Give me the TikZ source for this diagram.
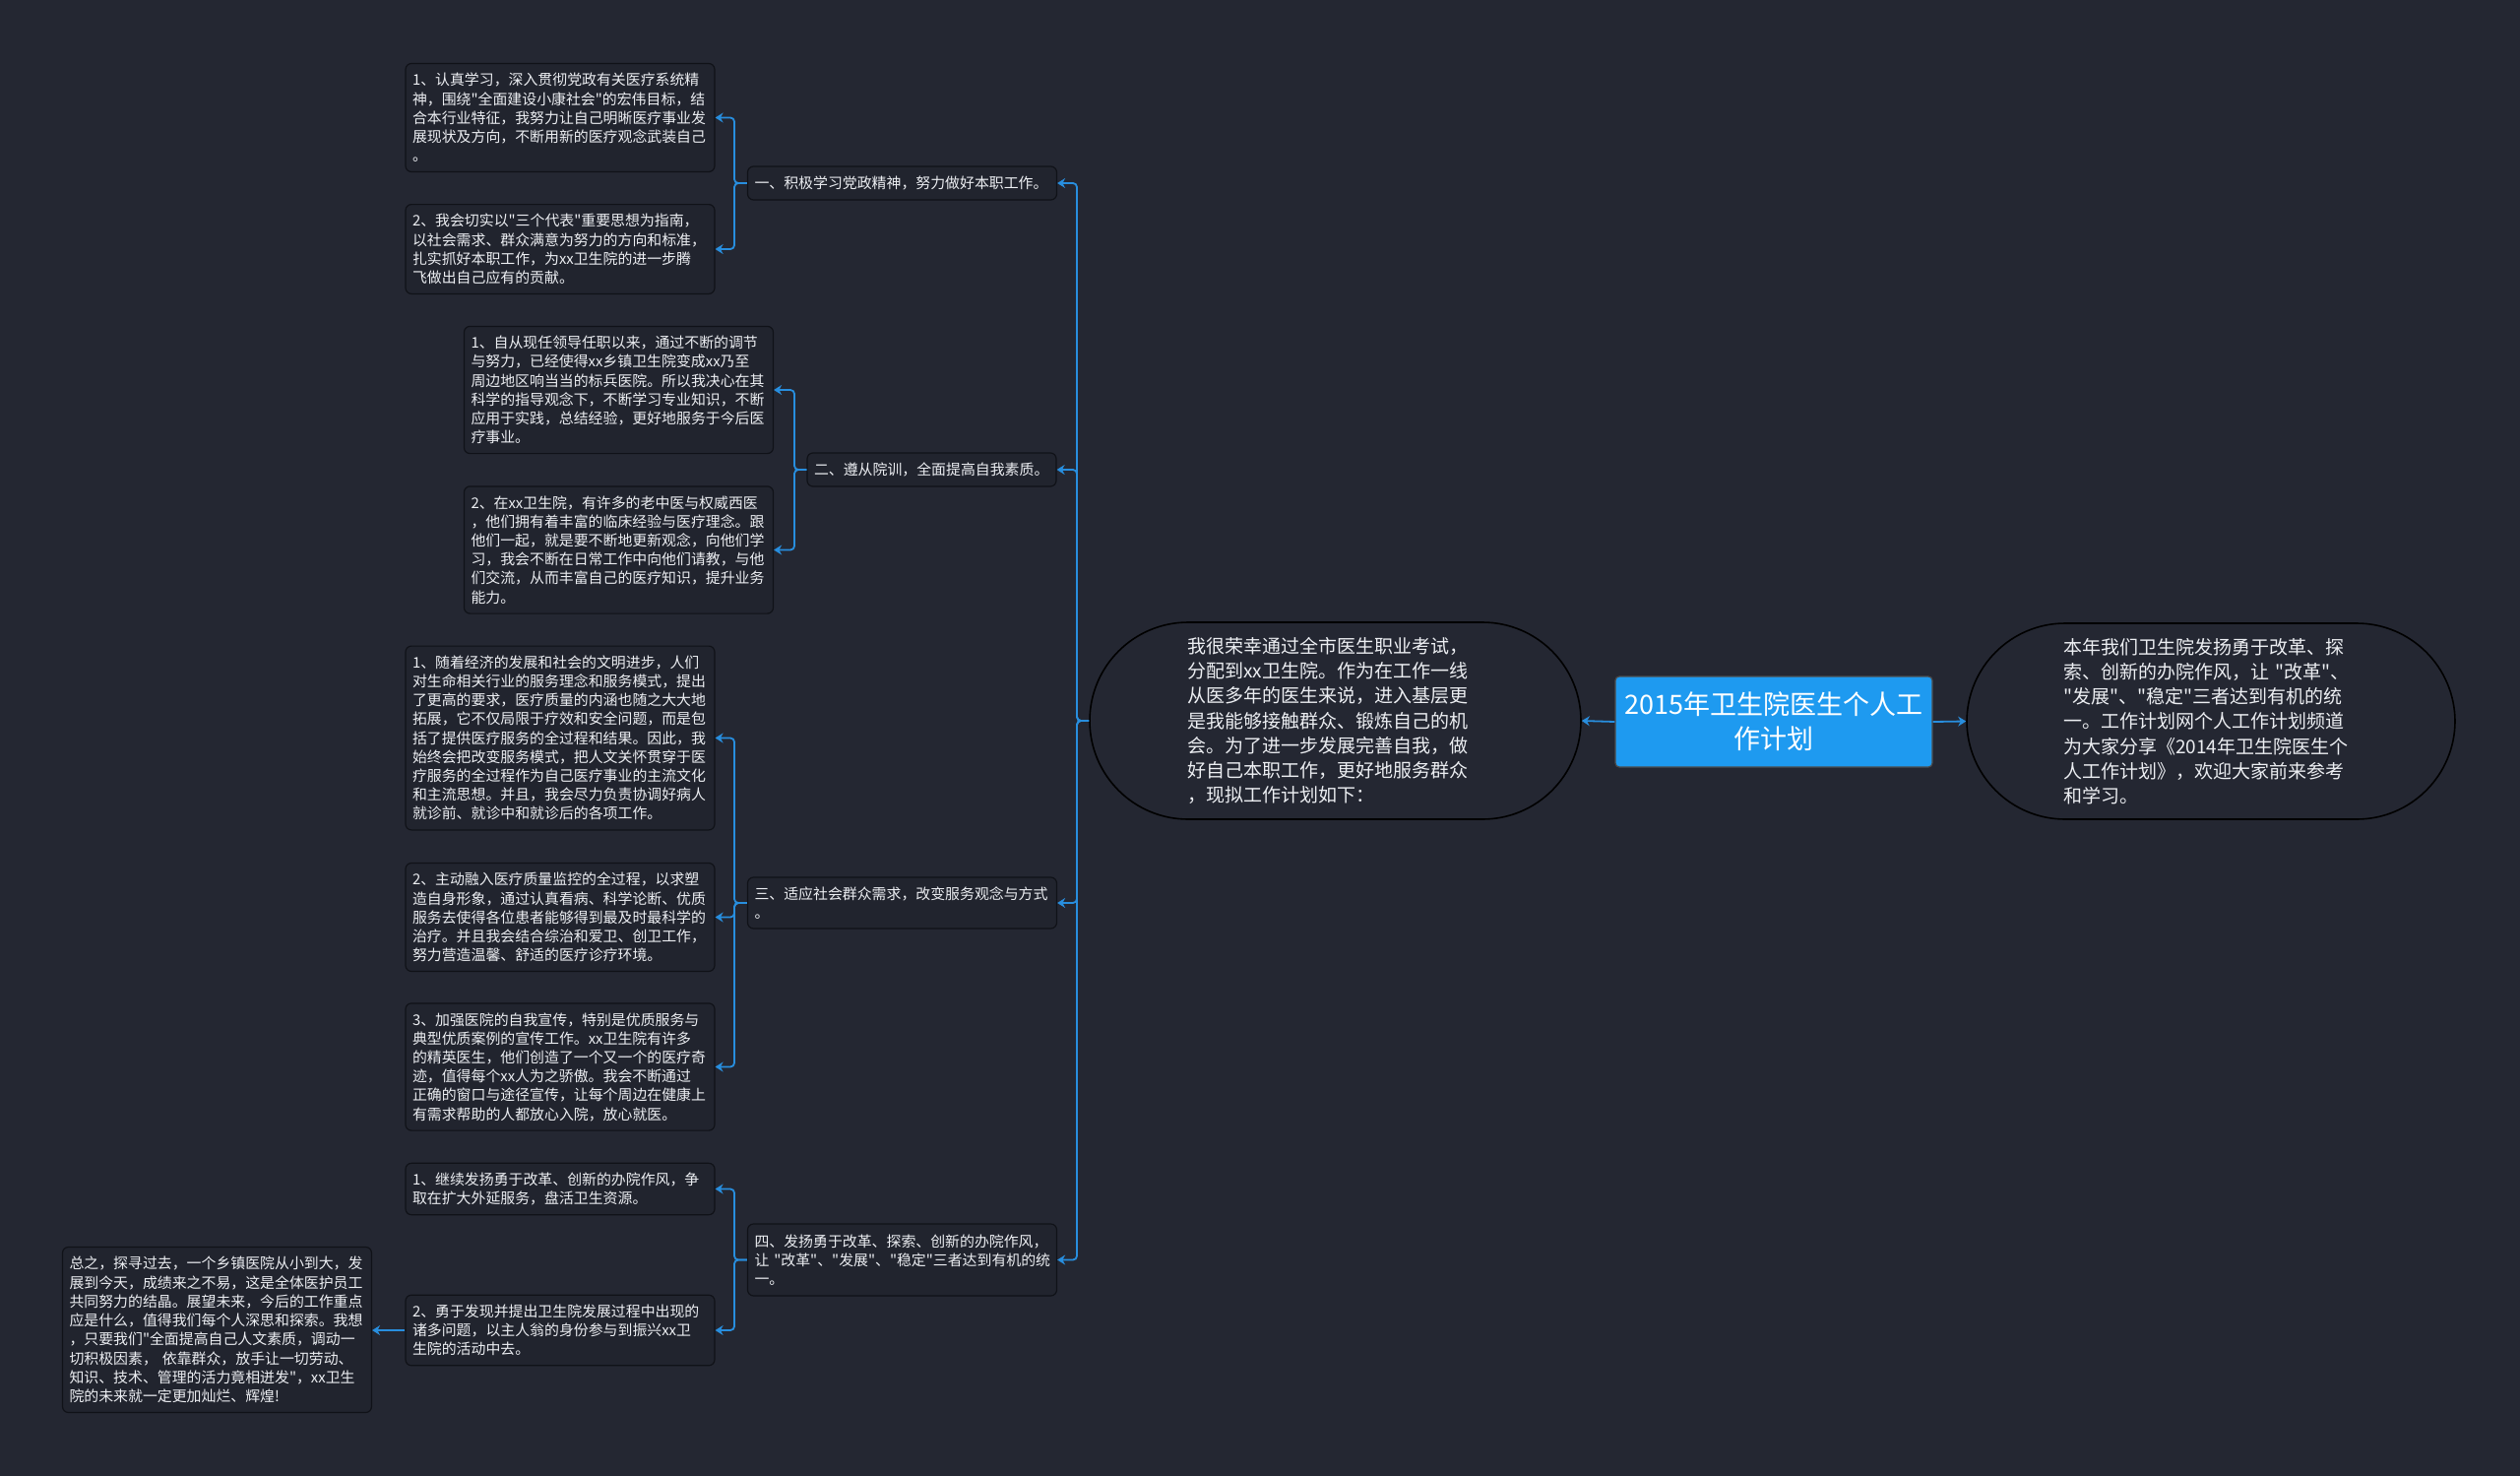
\documentclass[tikz,border=0pt]{standalone}
\usepackage{fontspec}
\setmainfont{Noto Sans CJK SC}[Ligatures=TeXOff]
\usetikzlibrary{arrows.meta}
\definecolor{bg}{RGB}{36,39,50}
\definecolor{boxfill}{RGB}{33,36,46}
\definecolor{boxline}{RGB}{16,18,24}
\definecolor{conn}{RGB}{40,142,222}
\definecolor{titlefill}{RGB}{30,154,240}
\definecolor{txt}{RGB}{236,238,242}
\tikzset{
  smallbox/.style={draw=boxline, fill=boxfill, line width=0.6pt, rounded corners=3pt,
    text=txt, font=\fontsize{7.45pt}{9.6pt}\selectfont, align=left,
    inner xsep=3.5pt, inner ysep=0pt, text width=150pt},
  labelbox/.style={smallbox},
  stadium/.style={draw=black, fill=bg, line width=0.8pt, rounded corners=50pt,
    text=txt, font=\fontsize{9.5pt}{12.6pt}\selectfont, align=left,
    text width=150pt, inner sep=0pt},
  titlebox/.style={draw=black!70, fill=titlefill, line width=0.6pt, rounded corners=2pt,
    text=white, font=\fontsize{13.5pt}{17.5pt}\selectfont, align=center,
    minimum width=161pt, minimum height=46pt, inner sep=0pt},
  connline/.style={draw=conn, line width=0.9pt, rounded corners=2pt,
    -{Stealth[length=4pt,width=5pt]}},
}
\begin{document}
\begin{tikzpicture}[x=0.5pt,y=-0.5pt]
\fill[bg] (0,0) rectangle (2560,1499);
\useasboundingbox (0,0) rectangle (2560,1499);

% central
\node[titlebox] (title) at (1802,733) {2015年卫生院医生个人工\\作计划};
\node[stadium, minimum width=249.5pt, minimum height=100pt] (cs) at (1356.5,732)
 {我很荣幸通过全市医生职业考试，\\分配到xx卫生院。作为在工作一线\\从医多年的医生来说，进入基层更\\是我能够接触群众、锻炼自己的机\\会。为了进一步发展完善自我，做\\好自己本职工作，更好地服务群众\\，现拟工作计划如下：};
\node[stadium, minimum width=248pt, minimum height=99.5pt] (rs) at (2246,732.5)
 {本年我们卫生院发扬勇于改革、探\\索、创新的办院作风，让~"改革"、\\"发展"、"稳定"三者达到有机的统\\一。工作计划网个人工作计划频道\\为大家分享《2014年卫生院医生个\\人工作计划》，欢迎大家前来参考\\和学习。};

% labels
\node[labelbox, minimum height=17pt] (l1) at (916.5,186) {一、积极学习党政精神，努力做好本职工作。};
\node[labelbox, text width=119.5pt, minimum height=17pt] (l2) at (946.5,477) {二、遵从院训，全面提高自我素质。};
\node[labelbox, minimum height=26pt] (l3) at (916.5,917) {三、适应社会群众需求，改变服务观念与方式\\。};
\node[labelbox, minimum height=36.5pt] (l4) at (916.5,1279.5) {四、发扬勇于改革、探索、创新的办院作风，\\让~"改革"、"发展"、"稳定"三者达到有机的统\\一。};

% group 1
\node[smallbox, minimum height=55pt] (b11) at (569,119.5) {1、认真学习，深入贯彻党政有关医疗系统精\\神，围绕"全面建设小康社会"的宏伟目标，结\\合本行业特征，我努力让自己明晰医疗事业发\\展现状及方向，不断用新的医疗观念武装自己\\。};
\node[smallbox, minimum height=45.4pt] (b12) at (569,253) {2、我会切实以"三个代表"重要思想为指南，\\以社会需求、群众满意为努力的方向和标准，\\扎实抓好本职工作，为xx卫生院的进一步腾\\飞做出自己应有的贡献。};

% group 2
\node[smallbox, minimum height=64.6pt] (b21) at (628.5,396) {1、自从现任领导任职以来，通过不断的调节\\与努力，已经使得xx乡镇卫生院变成xx乃至\\周边地区响当当的标兵医院。所以我决心在其\\科学的指导观念下，不断学习专业知识，不断\\应用于实践，总结经验，更好地服务于今后医\\疗事业。};
\node[smallbox, minimum height=64.6pt] (b22) at (628.5,558.5) {2、在xx卫生院，有许多的老中医与权威西医\\，他们拥有着丰富的临床经验与医疗理念。跟\\他们一起，就是要不断地更新观念，向他们学\\习，我会不断在日常工作中向他们请教，与他\\们交流，从而丰富自己的医疗知识，提升业务\\能力。};

% group 3
\node[smallbox, minimum height=93.4pt] (b31) at (569,749.5) {1、随着经济的发展和社会的文明进步，人们\\对生命相关行业的服务理念和服务模式，提出\\了更高的要求，医疗质量的内涵也随之大大地\\拓展，它不仅局限于疗效和安全问题，而是包\\括了提供医疗服务的全过程和结果。因此，我\\始终会把改变服务模式，把人文关怀贯穿于医\\疗服务的全过程作为自己医疗事业的主流文化\\和主流思想。并且，我会尽力负责协调好病人\\就诊前、就诊中和就诊后的各项工作。};
\node[smallbox, minimum height=55pt] (b32) at (569,931.5) {2、主动融入医疗质量监控的全过程，以求塑\\造自身形象，通过认真看病、科学论断、优质\\服务去使得各位患者能够得到最及时最科学的\\治疗。并且我会结合综治和爱卫、创卫工作，\\努力营造温馨、舒适的医疗诊疗环境。};
\node[smallbox, minimum height=64.6pt] (b33) at (569,1083.5) {3、加强医院的自我宣传，特别是优质服务与\\典型优质案例的宣传工作。xx卫生院有许多\\的精英医生，他们创造了一个又一个的医疗奇\\迹，值得每个xx人为之骄傲。我会不断通过\\正确的窗口与途径宣传，让每个周边在健康上\\有需求帮助的人都放心入院，放心就医。};

% group 4
\node[smallbox, minimum height=26.2pt] (b41) at (569,1207.5) {1、继续发扬勇于改革、创新的办院作风，争\\取在扩大外延服务，盘活卫生资源。};
\node[smallbox, minimum height=35.8pt] (b42) at (569,1351) {2、勇于发现并提出卫生院发展过程中出现的\\诸多问题，以主人翁的身份参与到振兴xx卫\\生院的活动中去。};
\node[smallbox, minimum height=84pt] (b5) at (220.5,1350.5) {总之，探寻过去，一个乡镇医院从小到大，发\\展到今天，成绩来之不易，这是全体医护员工\\共同努力的结晶。展望未来，今后的工作重点\\应是什么，值得我们每个人深思和探索。我想\\，只要我们"全面提高自己人文素质，调动一\\切积极因素，~依靠群众，放手让一切劳动、\\知识、技术、管理的活力竟相迸发"，xx卫生\\院的未来就一定更加灿烂、辉煌!};

% connectors
\draw[connline, rounded corners=0pt] (title.west) -- (cs.east);
\draw[connline, rounded corners=0pt] (title.east) -- (rs.west);
\coordinate (trunk) at (1094,732);
\foreach \l in {l1,l2,l3,l4} {\draw[connline] (cs.west) -- (trunk) |- (\l.east);}
\coordinate (k1) at (746,186);
\draw[connline] (l1.west) -- (k1) |- (b11.east);
\draw[connline] (l1.west) -- (k1) |- (b12.east);
\coordinate (k2) at (807,477);
\draw[connline] (l2.west) -- (k2) |- (b21.east);
\draw[connline] (l2.west) -- (k2) |- (b22.east);
\coordinate (k3) at (746,917);
\draw[connline] (l3.west) -- (k3) |- (b31.east);
\draw[connline] (l3.west) -- (k3) |- (b32.east);
\draw[connline] (l3.west) -- (k3) |- (b33.east);
\coordinate (k4) at (746,1279.5);
\draw[connline] (l4.west) -- (k4) |- (b41.east);
\draw[connline] (l4.west) -- (k4) |- (b42.east);
\draw[connline, rounded corners=0pt] (b42.west) -- (b5.east |- b42.west);
\end{tikzpicture}
\end{document}
